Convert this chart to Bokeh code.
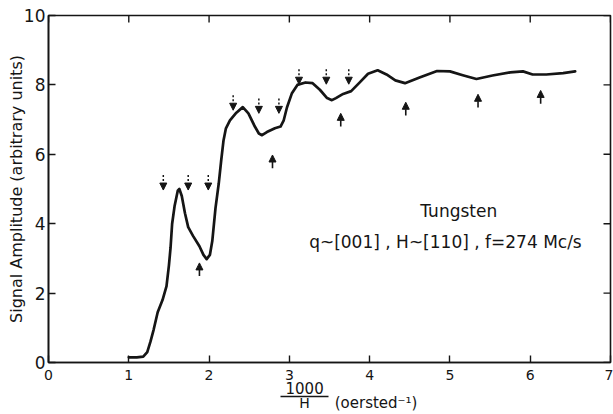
import json
from bokeh.plotting import figure
from bokeh.models import (Range1d, LinearAxis, FixedTicker, Label, Arrow,
                          NormalHead, ColumnDataSource, CustomJSTickFormatter)
from bokeh.embed import file_html
from bokeh.resources import INLINE

# ---- data ----
curve_x = [1.00, 1.10, 1.18, 1.23, 1.27, 1.31, 1.36, 1.42, 1.47, 1.50, 1.52,
           1.54, 1.57, 1.61, 1.63, 1.66, 1.70, 1.74, 1.80, 1.88, 1.93, 1.97,
           2.01, 2.04, 2.08, 2.12, 2.15, 2.18, 2.21, 2.26, 2.34, 2.42, 2.49,
           2.57, 2.62, 2.66, 2.72, 2.82, 2.89, 2.93, 2.97, 3.03, 3.10, 3.20,
           3.29, 3.38, 3.47, 3.53, 3.58, 3.67, 3.77, 3.88, 3.98, 4.10, 4.21,
           4.32, 4.44, 4.63, 4.84, 5.00, 5.16, 5.33, 5.53, 5.75, 5.91, 6.03,
           6.20, 6.41, 6.56]
curve_y = [0.15, 0.15, 0.17, 0.30, 0.60, 0.95, 1.45, 1.80, 2.20, 2.80, 3.30,
           4.00, 4.50, 4.95, 5.00, 4.80, 4.30, 3.90, 3.65, 3.35, 3.10, 2.98,
           3.10, 3.50, 4.45, 5.15, 5.80, 6.40, 6.75, 6.98, 7.20, 7.36, 7.18,
           6.80, 6.60, 6.55, 6.64, 6.75, 6.80, 6.98, 7.35, 7.75, 8.00, 8.07,
           8.05, 7.86, 7.62, 7.56, 7.62, 7.74, 7.82, 8.08, 8.32, 8.42, 8.30,
           8.13, 8.05, 8.22, 8.40, 8.39, 8.28, 8.17, 8.27, 8.36, 8.39, 8.30,
           8.30, 8.34, 8.39]

down_x = [1.43, 1.74, 1.99, 2.30, 2.62, 2.87, 3.12, 3.46, 3.74]
down_tip = [4.97, 4.97, 4.97, 7.27, 7.18, 7.18, 8.02, 8.02, 8.02]
up_x = [1.88, 2.79, 3.64, 4.45, 5.35, 6.13]
up_tip = [2.87, 5.98, 7.18, 7.50, 7.73, 7.84]

x_ticks = [0, 1, 2, 3, 4, 5, 6, 7]
y_ticks = [0, 2, 4, 6, 8, 10]

y_title = "Signal Amplitude (arbitrary units)"
x_title_num = "1000"
x_title_den = "H"
x_title_unit = "(oersted\u207b\u00b9)"
frac_x = 3.19            # data x where the fraction 1000/H sits
frac_bounds = (2.89, 3.49)
unit_x = 4.08            # data x (centre) of the unit text
note_1 = "Tungsten"
note_2 = "q~[001] , H~[110] , f=274 Mc/s"

FONT = "DejaVu Sans"
INK = "#151515"

p = figure(width=613, height=414, x_range=Range1d(0, 7), y_range=Range1d(0, 10),
           output_backend="svg", toolbar_location=None,
           min_border_left=48, min_border_right=3, min_border_top=15,
           min_border_bottom=51)
p.grid.visible = False
p.outline_line_color = INK
p.outline_line_width = 1.6
p.background_fill_color = "white"
p.border_fill_color = "white"


def base_axis(ax):
    ax.axis_line_color = INK
    ax.axis_line_width = 1.6
    ax.major_tick_line_color = INK
    ax.major_tick_line_width = 1.4
    ax.major_tick_in = 7
    ax.major_tick_out = 0
    ax.minor_tick_line_color = None
    ax.major_label_text_font = FONT
    ax.major_label_text_color = INK


xa = p.xaxis[0]
base_axis(xa)
xa.ticker = FixedTicker(ticks=x_ticks)
xa.major_label_text_font_size = "14px"
xa.major_label_standoff = 7

ya = p.yaxis[0]
base_axis(ya)
ya.ticker = FixedTicker(ticks=y_ticks)
ya.major_label_text_font_size = "17px"
ya.major_label_standoff = 3
ya.axis_label = y_title
ya.axis_label_text_font = FONT
ya.axis_label_text_font_size = "16px"
ya.axis_label_text_font_style = "normal"
ya.axis_label_text_color = INK
ya.axis_label_standoff = -5


def text_axis(text, x, size, standoff, line=False, bounds=None):
    ax = LinearAxis(ticker=FixedTicker(ticks=[x]),
                    formatter=CustomJSTickFormatter(code="return %s;" % json.dumps(text)))
    ax.major_tick_line_color = None
    ax.minor_tick_line_color = None
    ax.major_tick_in = 0
    ax.major_tick_out = 0
    ax.major_label_text_font = FONT
    ax.major_label_text_font_size = size
    ax.major_label_text_color = INK
    ax.major_label_standoff = standoff
    if line:
        ax.axis_line_color = INK
        ax.axis_line_width = 1.4
        ax.bounds = bounds
    else:
        ax.axis_line_color = None
    p.add_layout(ax, "below")
    return ax


text_axis(x_title_num, frac_x, "15px", -1)
text_axis(x_title_den, frac_x, "14px", -2, line=True, bounds=frac_bounds)
text_axis(x_title_unit, unit_x, "15px", -20)

# mirrored inner ticks on the top and right edges
p.ray(x=x_ticks, y=[10] * len(x_ticks), length=7, length_units="screen",
      angle=-1.5708, line_color=INK, line_width=1.4)
p.ray(x=[7] * len(y_ticks), y=y_ticks, length=7, length_units="screen",
      angle=3.14159, line_color=INK, line_width=1.4)

p.line(curve_x, curve_y, line_width=2.7, line_color=INK, line_join="round",
       line_cap="round")

# arrows
down_src = ColumnDataSource(dict(x0=down_x, y0=[t + 0.43 for t in down_tip],
                                 x1=down_x, y1=down_tip))
up_src = ColumnDataSource(dict(x0=up_x, y0=[t - 0.38 for t in up_tip],
                               x1=up_x, y1=up_tip))
p.add_layout(Arrow(end=NormalHead(size=7, fill_color=INK, line_color=INK, line_width=1),
                   x_start="x0", y_start="y0", x_end="x1", y_end="y1",
                   source=down_src, line_color=INK, line_width=1.5, line_dash="2 2"))
p.add_layout(Arrow(end=NormalHead(size=7, fill_color=INK, line_color=INK, line_width=1),
                   x_start="x0", y_start="y0", x_end="x1", y_end="y1",
                   source=up_src, line_color=INK, line_width=1.6))

# annotations
p.add_layout(Label(x=5.11, y=4.37, text=note_1, text_font=FONT, text_font_size="17px",
                   text_color=INK, text_align="center", text_baseline="alphabetic"))
p.add_layout(Label(x=4.944, y=3.48, text=note_2, text_font=FONT, text_font_size="17px",
                   text_color=INK, text_align="center", text_baseline="alphabetic"))

open("out.html", "w").write(file_html(p, INLINE))
